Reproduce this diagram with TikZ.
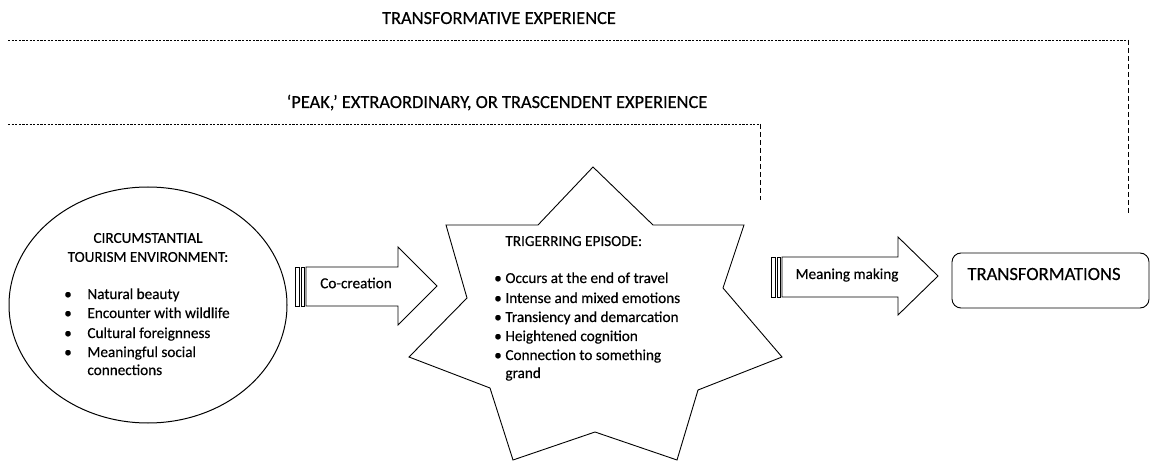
\documentclass[tikz,border=0pt]{standalone}
\usepackage{fontspec}
\setmainfont{Carlito}[FakeBold=0.4]
\usetikzlibrary{shapes.geometric}
\begin{document}
\begin{tikzpicture}[x=1pt,y=-1pt,line width=0.9pt,
  hdash/.style={line width=0.9pt,dash pattern=on 2.2pt off 1.4pt},
  vdash/.style={line width=0.9pt,dash pattern=on 5pt off 3pt},
  toplabel/.style={font=\fontsize{18.4}{22}\selectfont,inner sep=0pt},
  bodytext/.style={font=\fontsize{15.2}{19}\selectfont,inner sep=0pt},
  blockarrow/.style={draw,fill=white,line width=0.9pt,line join=miter}]
\useasboundingbox (0,0) rectangle (1151,462);

% labels
\node[toplabel,anchor=base] (tlab) at (499,24) {TRANSFORMATIVE EXPERIENCE};
\node[toplabel,anchor=base] (plab) at (497,108) {‘PEAK,’ EXTRAORDINARY, OR TRASCENDENT EXPERIENCE};

% dashed brackets
\coordinate (t1) at (8,40); \coordinate (t2) at (1128,40); \coordinate (t3) at (1128,213);
\coordinate (p1) at (8,124); \coordinate (p2) at (760,124); \coordinate (p3) at (760,200);
\draw[hdash] (t1) -- (t2);
\draw[vdash] (t2) -- (t3);
\draw[hdash] (p1) -- (p2);
\draw[vdash] (p2) -- (p3);

% ellipse
\node[ellipse,draw,line width=1pt,minimum width=278pt,minimum height=236pt] (env) at (148,305) {};
\node[bodytext,align=center] (envtitle) at (148,247.5) {CIRCUMSTANTIAL\\TOURISM ENVIRONMENT:};
\foreach \t/\yy [count=\i] in {Natural beauty/294, Encounter with wildlife/313, Cultural foreignness/333, Meaningful social/352} {
  \node[bodytext,anchor=base west] (envb\i) at (87,\yy+5) {\t};
  \node[bodytext,anchor=base] (envd\i) at (68,\yy+5) {•};
}
\node[bodytext,anchor=base west] (envb5) at (87,375) {connections};

% co-creation arrow
\draw[blockarrow] (295,267) rectangle (299,306);
\draw[blockarrow] (301,267) rectangle (304,306);
\draw[blockarrow] (306,267) -- (398,267) -- (398,247) -- (437,286) -- (398,325) -- (398,306) -- (306,306) -- cycle;
\node[bodytext] (cocr) at (356,283) {Co-creation};

% star
\draw[line width=0.9pt,line join=miter] (593,167) -- (653,225) -- (744,225) -- (723,288) -- (782,357) -- (698,390) -- (677,460) -- (595,432) -- (513,460) -- (490,388) -- (409,357) -- (467,298) -- (446,225) -- (538,225) -- cycle;
\node[bodytext,anchor=base west] (trigt) at (505,246) {TRIGERRING EPISODE:};
\foreach \t/\yy [count=\i] in {Occurs at the end of travel/278, Intense and mixed emotions/298, Transiency and demarcation/317, Heightened cognition/336, Connection to something/355} {
  \node[bodytext,anchor=base west] (trb\i) at (505,\yy+5) {\t};
  \node[bodytext,anchor=base] (trd\i) at (498,\yy+5) {•};
}
\node[bodytext,anchor=base west] (trb6) at (505,378) {grand};

% meaning making arrow
\draw[blockarrow] (771,257) rectangle (775,297);
\draw[blockarrow] (777,257) rectangle (780,297);
\draw[blockarrow] (782,257) -- (898,257) -- (898,237) -- (938,276) -- (898,315) -- (898,297) -- (782,297) -- cycle;
\node[bodytext] (mean) at (847,275) {Meaning making};

% transformations box
\node[draw,line width=0.9pt,rounded corners=9pt,minimum width=197pt,minimum height=55pt] (trans) at (1050.5,280.5) {};
\node[anchor=base west,inner sep=0pt,font=\fontsize{18.6}{22}\selectfont] (transt) at (967,280) {TRANSFORMATIONS};
\end{tikzpicture}
\end{document}
